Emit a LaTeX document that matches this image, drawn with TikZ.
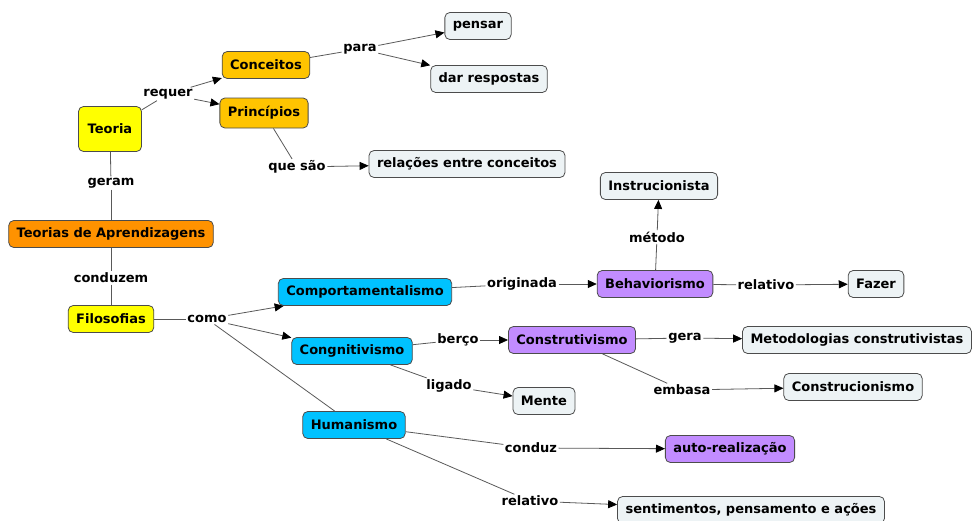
\documentclass[tikz,border=0pt]{standalone}
\usepackage{fontspec}
\setmainfont{DejaVu Sans}
\usepackage{tikz}
\usetikzlibrary{arrows.meta}
\definecolor{amarelo}{HTML}{FFFF00}
\definecolor{ouro}{HTML}{FFC400}
\definecolor{laranja}{HTML}{FF9200}
\definecolor{ciano}{HTML}{00C2FF}
\definecolor{lilas}{HTML}{C28CFF}
\definecolor{gelo}{HTML}{EDF3F5}

\begin{document}
\begin{tikzpicture}[x=1pt,y=-1pt,
		conceito/.style={draw=black!70,line width=0.8pt,rounded corners=5pt,inner xsep=8pt,minimum height=27pt,font=\fontsize{13}{15}\selectfont\bfseries},
		frase/.style={inner sep=1.5pt,font=\fontsize{13}{15}\selectfont\bfseries},
		liga/.style={draw=black!65,line width=0.8pt},
		seta/.style={liga,-{Triangle[length=9pt,width=8pt,black]}}]
		\useasboundingbox (0,0) rectangle (972,520);
		\node[conceito,fill=amarelo,minimum width=63pt,minimum height=45pt] (teoria) at (110,129) {Teoria};
		\node[conceito,fill=ouro] (conceitos) at (266,65) {Conceitos};
		\node[conceito,fill=ouro,minimum height=30pt] (principios) at (264,113) {Princípios};
		\node[conceito,fill=gelo] (pensar) at (478,26) {pensar};
		\node[conceito,fill=gelo] (respostas) at (489,79) {dar respostas};
		\node[conceito,fill=gelo] (relacoes) at (467,164) {relações entre conceitos};
		\node[conceito,fill=laranja] (teorias) at (111,234) {Teorias de Aprendizagens};
		\node[conceito,fill=amarelo] (filosofias) at (111,319) {Filosofias};
		\node[conceito,fill=ciano] (comport) at (365,292) {Comportamentalismo};
		\node[conceito,fill=ciano] (cognit) at (352,351) {Congnitivismo};
		\node[conceito,fill=ciano] (humanismo) at (354,425) {Humanismo};
		\node[conceito,fill=lilas] (behavior) at (655,284) {Behaviorismo};
		\node[conceito,fill=gelo] (instruc) at (659,186) {Instrucionista};
		\node[conceito,fill=gelo] (fazer) at (876,284) {Fazer};
		\node[conceito,fill=lilas] (construt) at (572,340) {Construtivismo};
		\node[conceito,fill=gelo] (metodol) at (857,340) {Metodologias construtivistas};
		\node[conceito,fill=gelo] (construc) at (853,387) {Construcionismo};
		\node[conceito,fill=gelo] (mente) at (544,401) {Mente};
		\node[conceito,fill=lilas] (autoreal) at (730,449) {auto-realização};
		\node[conceito,fill=gelo] (sentim) at (751,510) {sentimentos, pensamento e ações};
		\node[frase] (requer) at (168,94) {requer};
		\node[frase] (para) at (360,49) {para};
		\node[frase] (quesao) at (297,167) {que são};
		\node[frase] (geram) at (111,183) {geram};
		\node[frase] (conduzem) at (111,278) {conduzem};
		\node[frase] (como) at (207,319) {como};
		\node[frase] (originada) at (522,284) {originada};
		\node[frase] (metodo) at (657,237) {método};
		\node[frase] (relativoA) at (766,285) {relativo};
		\node[frase] (berco) at (458,340) {berço};
		\node[frase] (gera) at (685,338) {gera};
		\node[frase] (ligado) at (449,386) {ligado};
		\node[frase] (embasa) at (682,390) {embasa};
		\node[frase] (conduz) at (531,448) {conduz};
		\node[frase] (relativoB) at (530,501) {relativo};
		\draw[liga] (teoria) -- (requer);
		\draw[seta] (requer) -- (conceitos);
		\draw[seta] (requer) -- (principios);
		\draw[liga] (conceitos) -- (para);
		\draw[seta] (para) -- (pensar);
		\draw[seta] (para) -- (respostas);
		\draw[liga] (principios) -- (quesao);
		\draw[seta] (quesao) -- (relacoes);
		\draw[liga] (teoria) -- (geram);
		\draw[liga] (geram) -- (teorias);
		\draw[liga] (teorias) -- (conduzem);
		\draw[liga] (conduzem) -- (filosofias);
		\draw[liga] (filosofias) -- (como);
		\draw[seta] (como) -- (comport);
		\draw[seta] (como) -- (cognit);
		\draw[liga] (como) -- (humanismo);
		\draw[liga] (comport) -- (originada);
		\draw[seta] (originada) -- (behavior);
		\draw[liga] (behavior) -- (metodo);
		\draw[seta] (metodo) -- (instruc);
		\draw[liga] (behavior) -- (relativoA);
		\draw[seta] (relativoA) -- (fazer);
		\draw[liga] (cognit) -- (berco);
		\draw[seta] (berco) -- (construt);
		\draw[liga] (cognit) -- (ligado);
		\draw[seta] (ligado) -- (mente);
		\draw[liga] (construt) -- (gera);
		\draw[seta] (gera) -- (metodol);
		\draw[liga] (construt) -- (embasa);
		\draw[seta] (embasa) -- (construc);
		\draw[liga] (humanismo) -- (conduz);
		\draw[seta] (conduz) -- (autoreal);
		\draw[liga] (humanismo) -- (relativoB);
		\draw[seta] (relativoB) -- (sentim);
\end{tikzpicture}
\end{document}
